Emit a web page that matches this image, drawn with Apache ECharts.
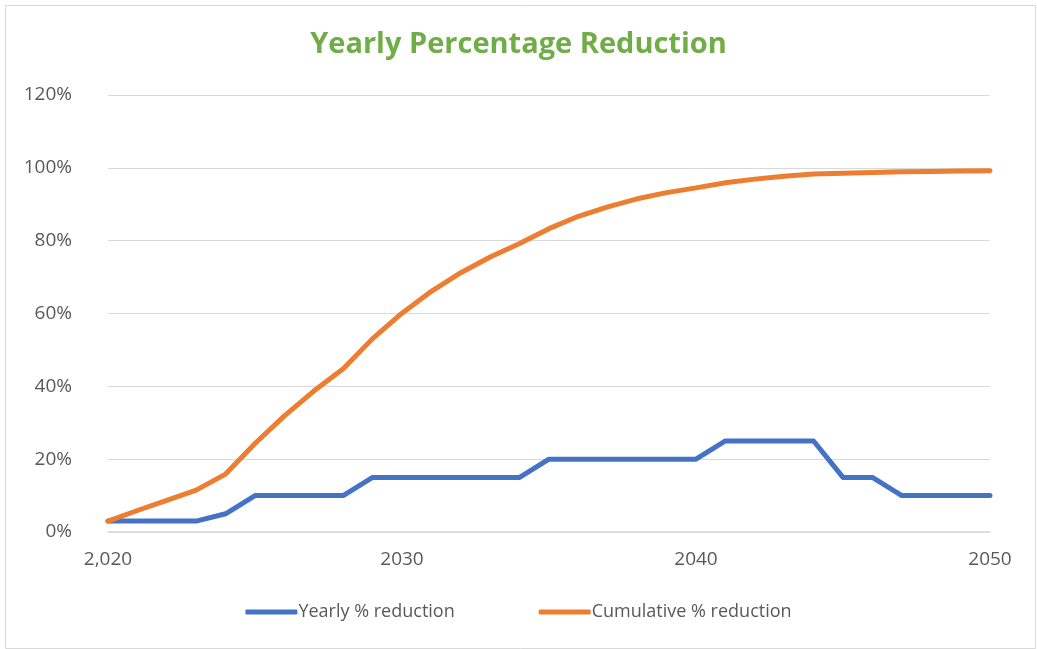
<!DOCTYPE html>
<html>
<head>
<meta charset="utf-8">
<script src="https://cdn.jsdelivr.net/npm/echarts@6/dist/echarts.min.js"></script>
<style>
  html, body { margin: 0; padding: 0; background: #fff; }
  #chart { width: 1037px; height: 649px; }
</style>
</head>
<body>
<div id="chart"></div>
<script>
// years and values
const years = [2020, 2021, 2022, 2023, 2024, 2025, 2026, 2027, 2028, 2029,
  2030, 2031, 2032, 2033, 2034, 2035, 2036, 2037, 2038, 2039,
  2040, 2041, 2042, 2043, 2044, 2045, 2046, 2047, 2048, 2049, 2050];
const yearly = [0.03, 0.03, 0.03, 0.03, 0.05, 0.10, 0.10, 0.10, 0.10, 0.15,
  0.15, 0.15, 0.15, 0.15, 0.15, 0.20, 0.20, 0.20, 0.20, 0.20,
  0.20, 0.25, 0.25, 0.25, 0.25, 0.15, 0.15, 0.10, 0.10, 0.10, 0.10];
const cumulative = [0.030, 0.059, 0.087, 0.115, 0.159, 0.243, 0.319, 0.387, 0.448, 0.531,
  0.601, 0.661, 0.712, 0.755, 0.792, 0.833, 0.867, 0.893, 0.915, 0.932,
  0.945, 0.959, 0.969, 0.977, 0.983, 0.985, 0.987, 0.989, 0.990, 0.991, 0.992];
const xTicks = { 2020: '2,020', 2030: '2030', 2040: '2040', 2050: '2050' };

const myChart = echarts.init(document.getElementById('chart'));
const font = '"Open Sans", "Liberation Sans", sans-serif';

const option = {
  animation: false,
  backgroundColor: '#fff',
  title: {
    text: 'Yearly Percentage Reduction',
    left: 'center',
    top: 25,
    textStyle: {
      color: '#70AD47',
      fontSize: 29,
      fontWeight: 'bold',
      fontFamily: font
    }
  },
  graphic: [{
    type: 'rect',
    left: 3,
    top: 3,
    shape: { width: 1030, height: 643 },
    style: { fill: 'none', stroke: '#d9d9d9', lineWidth: 1 },
    silent: true
  }],
  legend: {
    bottom: 23,
    left: 'center',
    itemWidth: 52,
    itemHeight: 5,
    itemGap: 84,
    icon: 'roundRect',
    textStyle: { color: '#595959', fontSize: 18, fontFamily: font, padding: [0, 0, 0, -4] },
    data: ['Yearly % reduction', 'Cumulative % reduction']
  },
  grid: {
    left: 108,
    right: 47,
    top: 95,
    bottom: 117
  },
  xAxis: {
    type: 'value',
    min: 2020,
    max: 2050,
    interval: 10,
    axisLine: { show: true, lineStyle: { color: '#d9d9d9', width: 1.5 } },
    axisTick: { show: false },
    splitLine: { show: false },
    axisLabel: {
      color: '#595959',
      fontSize: 19,
      fontFamily: font,
      margin: 18,
      formatter: v => xTicks[v] || ''
    }
  },
  yAxis: {
    type: 'value',
    min: 0,
    max: 1.2,
    interval: 0.2,
    axisLine: { show: false },
    axisTick: { show: false },
    splitLine: { lineStyle: { color: '#d9d9d9', width: 1 } },
    axisLabel: {
      color: '#595959',
      fontSize: 19,
      fontFamily: font,
      margin: 36,
      formatter: v => Math.round(v * 100) + '%'
    }
  },
  series: [
    {
      name: 'Yearly % reduction',
      type: 'line',
      data: years.map((y, i) => [y, yearly[i]]),
      showSymbol: false,
      lineStyle: { color: '#4472C4', width: 5, cap: 'round', join: 'round' },
      itemStyle: { color: '#4472C4' }
    },
    {
      name: 'Cumulative % reduction',
      type: 'line',
      data: years.map((y, i) => [y, cumulative[i]]),
      showSymbol: false,
      lineStyle: { color: '#ED7D31', width: 5, cap: 'round', join: 'round' },
      itemStyle: { color: '#ED7D31' }
    }
  ]
};

myChart.setOption(option);
</script>
</body>
</html>
